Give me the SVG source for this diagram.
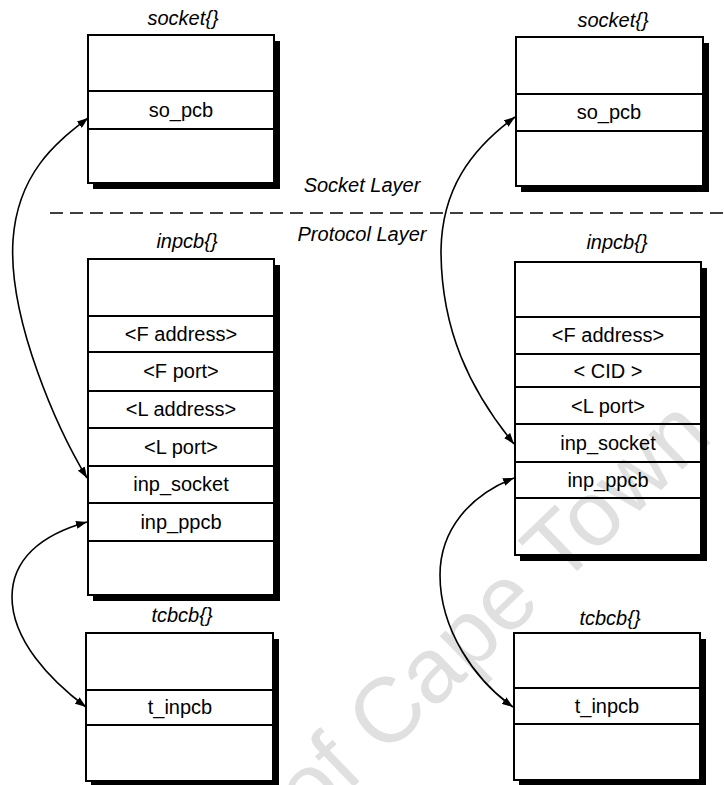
<svg xmlns="http://www.w3.org/2000/svg" width="724" height="785" viewBox="0 0 724 785">
  <defs>
    <style>
      .box { fill: none; stroke: #000; stroke-width: 2; }
      .row { stroke: #000; stroke-width: 2; }
      .shadow { fill: #000; }
      .field { font-family: "Liberation Sans", Arial, sans-serif; font-size: 20px; fill: #000; text-anchor: middle; }
      .title { font-family: "Liberation Sans", Arial, sans-serif; font-size: 20px; font-style: italic; fill: #000; text-anchor: middle; }
      .layer { font-family: "Liberation Sans", Arial, sans-serif; font-size: 20px; font-style: italic; fill: #000; text-anchor: middle; }
      .link { fill: none; stroke: #000; stroke-width: 1.6; marker-start: url(#head); marker-end: url(#head); }
      .mark { font-family: "Liberation Sans", Arial, sans-serif; font-size: 92px; fill: #e0e0e0; }
    </style>
    <marker id="head" viewBox="0 0 11 8" refX="11" refY="4" markerWidth="11" markerHeight="8" markerUnits="userSpaceOnUse" orient="auto-start-reverse">
      <path d="M0,0 L11,4 L0,8 z" fill="#000"/>
    </marker>
  </defs>

  <rect x="0" y="0" width="724" height="785" fill="#fff"/>

  <!-- background watermark -->
  <text class="mark" transform="translate(311,828) rotate(-44)">of Cape Town</text>

  <!-- layer divider -->
  <g id="layers">
    <text class="layer" x="362" y="192">Socket Layer</text>
    <line x1="50" y1="213" x2="724" y2="213" stroke="#000" stroke-width="1.6" stroke-dasharray="13 7"/>
    <text class="layer" x="362" y="241">Protocol Layer</text>
  </g>

  <!-- left column -->
  <g id="socket-left">
    <text class="title" x="183" y="25">socket{}</text>
    <polygon class="shadow" points="274,41 280,41 280,189 93,189 93,183 274,183"/>
    <rect class="box" x="88" y="35" width="186" height="148"/>
    <line class="row" x1="88" y1="91" x2="274" y2="91"/>
    <line class="row" x1="88" y1="129" x2="274" y2="129"/>
    <text class="field" x="181" y="117">so_pcb</text>
  </g>

  <g id="inpcb-left">
    <text class="title" x="187" y="248">inpcb{}</text>
    <polygon class="shadow" points="274,265 280,265 280,601 93,601 93,595 274,595"/>
    <rect class="box" x="88" y="259" width="186" height="336"/>
    <line class="row" x1="88" y1="316" x2="274" y2="316"/>
    <line class="row" x1="88" y1="352" x2="274" y2="352"/>
    <line class="row" x1="88" y1="391" x2="274" y2="391"/>
    <line class="row" x1="88" y1="428" x2="274" y2="428"/>
    <line class="row" x1="88" y1="466" x2="274" y2="466"/>
    <line class="row" x1="88" y1="503" x2="274" y2="503"/>
    <line class="row" x1="88" y1="541" x2="274" y2="541"/>
    <text class="field" x="181" y="341">&lt;F address&gt;</text>
    <text class="field" x="181" y="378">&lt;F port&gt;</text>
    <text class="field" x="181" y="416">&lt;L address&gt;</text>
    <text class="field" x="181" y="454">&lt;L port&gt;</text>
    <text class="field" x="181" y="491">inp_socket</text>
    <text class="field" x="181" y="529">inp_ppcb</text>
  </g>

  <g id="tcbcb-left">
    <text class="title" x="182" y="622">tcbcb{}</text>
    <polygon class="shadow" points="273,639 279,639 279,787 91,787 91,781 273,781"/>
    <rect class="box" x="86" y="633" width="187" height="148"/>
    <line class="row" x1="86" y1="690" x2="273" y2="690"/>
    <line class="row" x1="86" y1="725" x2="273" y2="725"/>
    <text class="field" x="180" y="714">t_inpcb</text>
  </g>

  <!-- right column -->
  <g id="socket-right">
    <text class="title" x="613" y="27">socket{}</text>
    <polygon class="shadow" points="703,43 709,43 709,192 521,192 521,186 703,186"/>
    <rect class="box" x="516" y="37" width="187" height="149"/>
    <line class="row" x1="516" y1="94" x2="703" y2="94"/>
    <line class="row" x1="516" y1="131" x2="703" y2="131"/>
    <text class="field" x="609" y="119">so_pcb</text>
  </g>

  <g id="inpcb-right">
    <text class="title" x="617" y="249">inpcb{}</text>
    <polygon class="shadow" points="701,268 707,268 707,561 520,561 520,555 701,555"/>
    <rect class="box" x="515" y="262" width="186" height="293"/>
    <line class="row" x1="515" y1="317" x2="701" y2="317"/>
    <line class="row" x1="515" y1="354" x2="701" y2="354"/>
    <line class="row" x1="515" y1="387" x2="701" y2="387"/>
    <line class="row" x1="515" y1="424" x2="701" y2="424"/>
    <line class="row" x1="515" y1="462" x2="701" y2="462"/>
    <line class="row" x1="515" y1="498" x2="701" y2="498"/>
    <text class="field" x="608" y="342">&lt;F address&gt;</text>
    <text class="field" x="608" y="378">&lt; CID &gt;</text>
    <text class="field" x="608" y="413">&lt;L port&gt;</text>
    <text class="field" x="608" y="450">inp_socket</text>
    <text class="field" x="608" y="487">inp_ppcb</text>
  </g>

  <g id="tcbcb-right">
    <text class="title" x="610" y="625">tcbcb{}</text>
    <polygon class="shadow" points="700,639 706,639 706,786 519,786 519,780 700,780"/>
    <rect class="box" x="514" y="633" width="186" height="147"/>
    <line class="row" x1="514" y1="688" x2="700" y2="688"/>
    <line class="row" x1="514" y1="724" x2="700" y2="724"/>
    <text class="field" x="607" y="713">t_inpcb</text>
  </g>

  <!-- pointer links -->
  <g id="connectors">
    <path class="link" d="M88,118 C60,140 18,170 13,240 C8,320 58,430 87,478"/>
    <path class="link" d="M87,522 C40,535 12,560 12,597 C12,640 50,680 86,707"/>
    <path class="link" d="M515,117 C470,150 442,190 441,250 C441,330 470,390 514,444"/>
    <path class="link" d="M514,478 C470,495 440,530 440,575 C440,630 475,680 513,707"/>
  </g>
</svg>
